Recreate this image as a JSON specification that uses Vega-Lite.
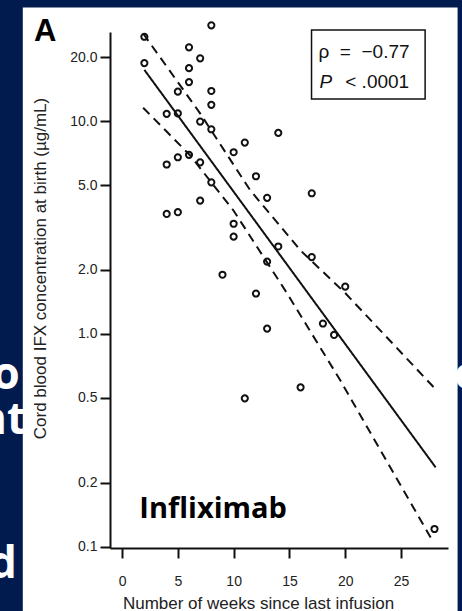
{
  "$schema": "https://vega.github.io/schema/vega-lite/v6.json",
  "width": 338,
  "height": 516,
  "autosize": {"type": "none"},
  "padding": {"left": 110, "top": 32, "right": 14, "bottom": 63},
  "background": "#021b4f",
  "config": {
    "view": {"stroke": null},
    "axis": {"grid": false, "domainColor": "#111", "domainWidth": 2, "tickColor": "#111", "tickWidth": 2, "tickSize": 10, "labelFont": "Liberation Sans", "labelFontSize": 14, "labelColor": "#222", "titleFont": "Liberation Sans", "titleFontSize": 17, "titleFontWeight": "normal", "titleColor": "#222"}
  },
  "datasets": {
    "points": [
      {"week": 2, "ifx": 25.0}, {"week": 2, "ifx": 18.8}, {"week": 8, "ifx": 28.3}, {"week": 6, "ifx": 22.3},
      {"week": 7, "ifx": 19.8}, {"week": 6, "ifx": 17.8}, {"week": 6, "ifx": 15.3}, {"week": 5, "ifx": 13.8},
      {"week": 8, "ifx": 13.9}, {"week": 8, "ifx": 11.96}, {"week": 4, "ifx": 10.85}, {"week": 5, "ifx": 10.9},
      {"week": 7, "ifx": 9.98}, {"week": 8, "ifx": 9.18}, {"week": 4, "ifx": 6.27}, {"week": 5, "ifx": 6.78},
      {"week": 6, "ifx": 6.96}, {"week": 7, "ifx": 6.42}, {"week": 8, "ifx": 5.17}, {"week": 7, "ifx": 4.24},
      {"week": 14, "ifx": 8.83}, {"week": 11, "ifx": 7.95}, {"week": 10, "ifx": 7.16}, {"week": 12, "ifx": 5.52},
      {"week": 13, "ifx": 4.37}, {"week": 17, "ifx": 4.59}, {"week": 4, "ifx": 3.67}, {"week": 5, "ifx": 3.74},
      {"week": 9, "ifx": 1.9}, {"week": 10, "ifx": 3.3}, {"week": 10, "ifx": 2.87}, {"week": 14, "ifx": 2.58},
      {"week": 13, "ifx": 2.19}, {"week": 17, "ifx": 2.3}, {"week": 20, "ifx": 1.67}, {"week": 12, "ifx": 1.55},
      {"week": 18, "ifx": 1.12}, {"week": 19, "ifx": 0.99}, {"week": 13, "ifx": 1.06}, {"week": 11, "ifx": 0.498},
      {"week": 16, "ifx": 0.561}, {"week": 28, "ifx": 0.121}
    ],
    "lines": [
      {"series": "fit", "week": 2.0, "ifx": 17.47}, {"series": "fit", "week": 28.1, "ifx": 0.236},
      {"series": "upper", "week": 1.89, "ifx": 25.9}, {"series": "upper", "week": 7.01, "ifx": 10.88},
      {"series": "upper", "week": 11.5, "ifx": 4.73}, {"series": "upper", "week": 16.0, "ifx": 2.47},
      {"series": "upper", "week": 20.04, "ifx": 1.55}, {"series": "upper", "week": 28.12, "ifx": 0.548},
      {"series": "lower", "week": 1.89, "ifx": 11.6}, {"series": "lower", "week": 6.11, "ifx": 6.91},
      {"series": "lower", "week": 10.0, "ifx": 3.8}, {"series": "lower", "week": 14.8, "ifx": 1.55},
      {"series": "lower", "week": 19.57, "ifx": 0.604}, {"series": "lower", "week": 27.67, "ifx": 0.11}
    ]
  },
  "layer": [
    {
      "data": {"values": [{}]},
      "mark": {"type": "text", "text": "o", "font": "Open Sans", "fontWeight": "bold", "fontSize": 44, "color": "white", "align": "right", "baseline": "alphabetic"},
      "encoding": {"x": {"datum": -9.16, "type": "quantitative"}, "y": {"datum": 0.5535, "type": "quantitative"}}
    },
    {
      "data": {"values": [{}]},
      "mark": {"type": "text", "text": "nt", "font": "Open Sans", "fontWeight": "bold", "fontSize": 44, "color": "white", "align": "right", "baseline": "alphabetic"},
      "encoding": {"x": {"datum": -8.6, "type": "quantitative"}, "y": {"datum": 0.34, "type": "quantitative"}}
    },
    {
      "data": {"values": [{}]},
      "mark": {"type": "text", "text": "d", "font": "Open Sans", "fontWeight": "bold", "fontSize": 44, "color": "white", "align": "right", "baseline": "alphabetic"},
      "encoding": {"x": {"datum": -9.43, "type": "quantitative"}, "y": {"datum": 0.0715, "type": "quantitative"}}
    },
    {
      "data": {"values": [{}]},
      "mark": {"type": "text", "text": "e", "font": "Open Sans", "fontWeight": "bold", "fontSize": 44, "color": "white", "align": "left", "baseline": "alphabetic"},
      "encoding": {"x": {"datum": 29.75, "type": "quantitative"}, "y": {"datum": 0.5535, "type": "quantitative"}}
    },
    {
      "data": {"values": [{}]},
      "mark": {"type": "rect", "color": "white"},
      "encoding": {
        "x": {"datum": -8.895, "type": "quantitative"}, "x2": {"datum": 30.07},
        "y": {"datum": 34.3, "type": "quantitative"}, "y2": {"datum": 0.04}
      }
    },
    {
      "data": {"values": [{}]},
      "mark": {"type": "rect", "fill": null, "stroke": "#111", "strokeWidth": 1.5},
      "encoding": {
        "x": {"datum": 16.98, "type": "quantitative"}, "x2": {"datum": 27.16},
        "y": {"datum": 26.9, "type": "quantitative"}, "y2": {"datum": 12.76}
      }
    },
    {
      "data": {"values": [{}]},
      "mark": {"type": "text", "text": "ρ\u00a0\u00a0=\u00a0\u00a0−0.77", "font": "Liberation Sans", "fontSize": 19, "color": "#111", "align": "left", "baseline": "alphabetic"},
      "encoding": {"x": {"datum": 17.6, "type": "quantitative"}, "y": {"datum": 19.95, "type": "quantitative"}}
    },
    {
      "data": {"values": [{}]},
      "mark": {"type": "text", "text": "P", "font": "Liberation Sans", "fontStyle": "italic", "fontSize": 19, "color": "#111", "align": "left", "baseline": "alphabetic"},
      "encoding": {"x": {"datum": 17.7, "type": "quantitative"}, "y": {"datum": 14.42, "type": "quantitative"}}
    },
    {
      "data": {"values": [{}]},
      "mark": {"type": "text", "text": "<\u00a0.0001", "font": "Liberation Sans", "fontSize": 19, "color": "#111", "align": "left", "baseline": "alphabetic"},
      "encoding": {"x": {"datum": 20.0, "type": "quantitative"}, "y": {"datum": 14.42, "type": "quantitative"}}
    },
    {
      "data": {"values": [{}]},
      "mark": {"type": "text", "text": "A", "font": "Liberation Sans", "fontWeight": "bold", "fontSize": 31, "color": "#000", "align": "left", "baseline": "alphabetic"},
      "encoding": {"x": {"datum": -7.9, "type": "quantitative"}, "y": {"datum": 24.0, "type": "quantitative"}}
    },
    {
      "data": {"values": [{}]},
      "mark": {"type": "text", "text": "Infliximab", "font": "Open Sans", "fontWeight": "bold", "fontSize": 29, "color": "#000", "align": "left", "baseline": "alphabetic"},
      "encoding": {"x": {"datum": 1.55, "type": "quantitative"}, "y": {"datum": 0.137, "type": "quantitative"}}
    },
    {
      "data": {"name": "lines"},
      "mark": {"type": "line", "color": "#111", "strokeWidth": 2},
      "encoding": {
        "x": {"field": "week", "type": "quantitative"},
        "y": {"field": "ifx", "type": "quantitative"},
        "detail": {"field": "series"},
        "strokeDash": {"field": "series", "type": "nominal", "scale": {"domain": ["fit", "lower", "upper"], "range": [[1, 0], [9, 6], [9, 6]]}, "legend": null}
      }
    },
    {
      "data": {"name": "points"},
      "mark": {"type": "point", "filled": false, "color": "#111", "strokeWidth": 2, "size": 38, "opacity": 1},
      "encoding": {
        "x": {
          "field": "week", "type": "quantitative",
          "scale": {"domain": [-1.08, 29.21], "nice": false, "zero": false},
          "axis": {"zindex": 1, "values": [0, 5, 10, 15, 20, 25], "title": "Number of weeks since last infusion", "labelPadding": 16, "titleX": 148, "titleY": 47, "titleAnchor": "start", "titleAlign": "center"}
        },
        "y": {
          "field": "ifx", "type": "quantitative",
          "scale": {"type": "log", "domain": [0.0985, 26.33], "nice": false, "zero": false},
          "axis": {"zindex": 1, "values": [0.1, 0.2, 0.5, 1, 2, 5, 10, 20], "labelExpr": "format(datum.value, '.1f')", "labelPadding": 3, "title": "Cord blood IFX concentration at birth (µg/mL)", "titleX": -61, "titleY": 236, "titleAlign": "center"}
        }
      }
    }
  ]
}
